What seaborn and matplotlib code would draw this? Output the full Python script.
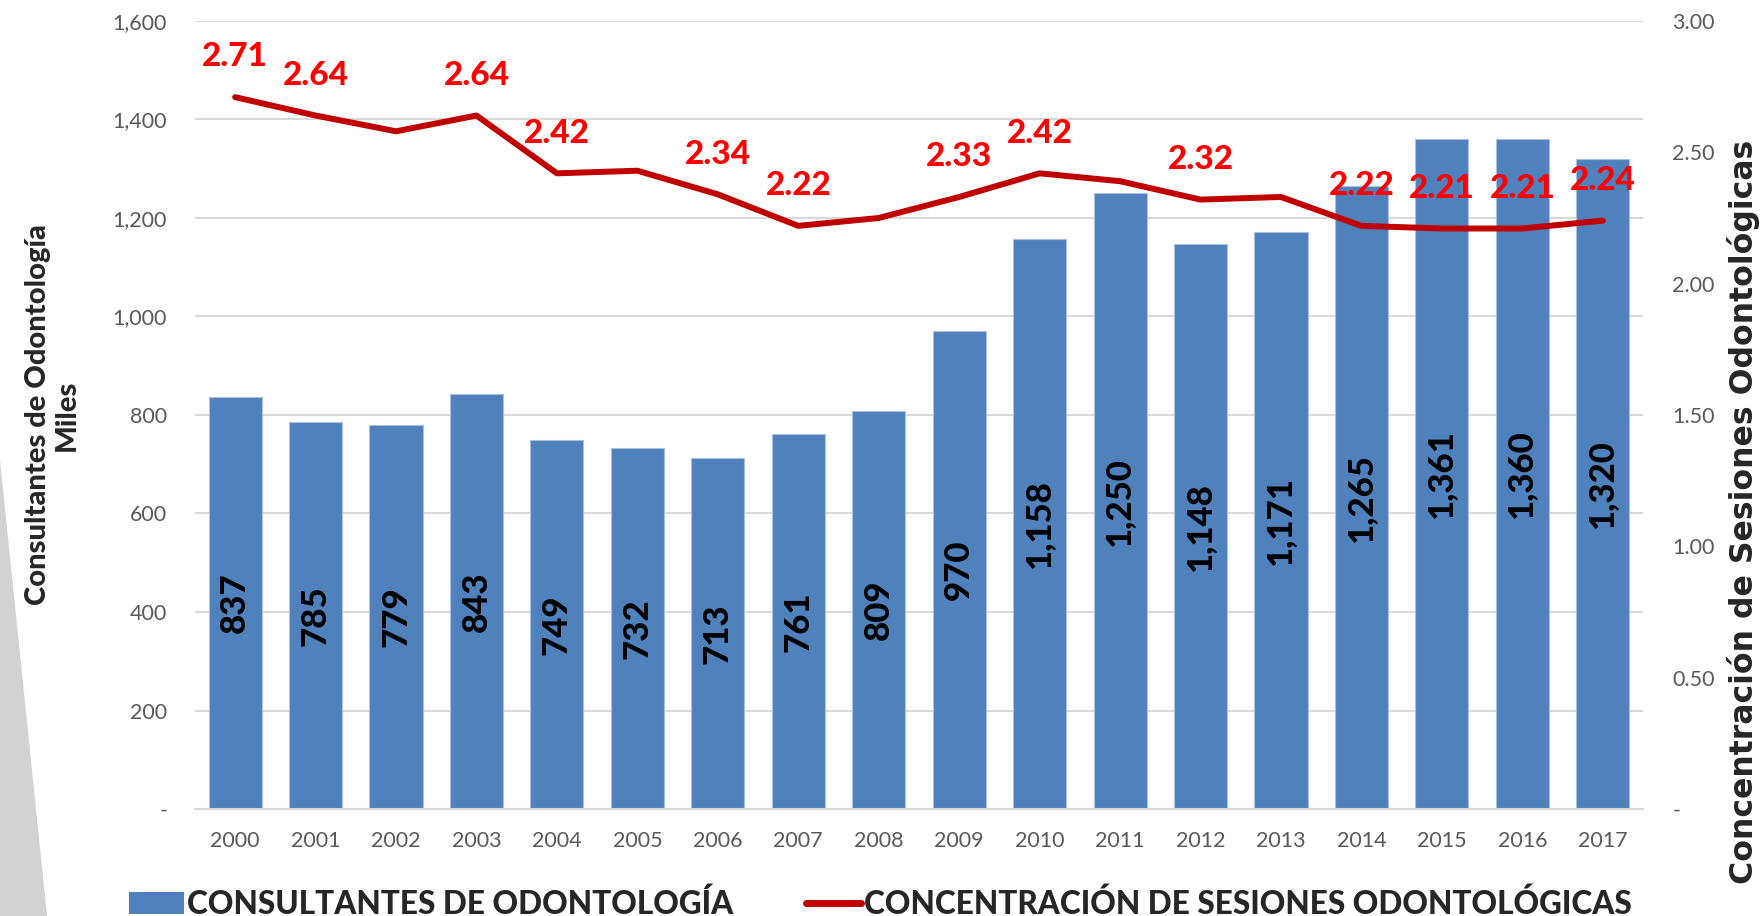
import matplotlib
matplotlib.use("Agg")
import matplotlib.pyplot as plt
import seaborn as sns
import numpy as np
import pandas as pd
from matplotlib.patches import Patch, Polygon
from matplotlib.lines import Line2D
from matplotlib.ticker import FuncFormatter

# data
years = ['2000', '2001', '2002', '2003', '2004', '2005', '2006', '2007', '2008',
         '2009', '2010', '2011', '2012', '2013', '2014', '2015', '2016', '2017']
consultantes = [837, 785, 779, 843, 749, 732, 713, 761, 809,
                970, 1158, 1250, 1148, 1171, 1265, 1361, 1360, 1320]
concentracion = [2.71, 2.64, 2.58, 2.64, 2.42, 2.43, 2.34, 2.22, 2.25,
                 2.33, 2.42, 2.39, 2.32, 2.33, 2.22, 2.21, 2.21, 2.24]
# which points of the line carry a value label in the original
line_labelled = [True, True, False, True, True, False, True, True, False,
                 True, True, False, True, False, True, True, True, True]

bar_name = 'CONSULTANTES DE ODONTOLOGÍA'
line_name = 'CONCENTRACIÓN DE SESIONES ODONTOLÓGICAS'

BLUE = '#4F81BD'
DARKRED = '#C00000'
RED = '#FF0000'
GRAY = '#595959'

sns.set_theme(style='white')
plt.rcParams['font.family'] = ['Lato', 'DejaVu Sans']

df = pd.DataFrame({'year': years, 'consultantes': consultantes})

fig = plt.figure(figsize=(17.64, 9.16), dpi=100)
ax = fig.add_axes([0.1105, 0.1168, 0.8209, 0.8603])

# decorative grey wedge at the left edge
fig.patches.append(Polygon([(0, 1 - 460 / 916), (47 / 1764, 0), (0, 0)], closed=True,
                           transform=fig.transFigure, facecolor='#d2d2d2',
                           edgecolor='none', zorder=0))

sns.barplot(data=df, x='year', y='consultantes', color=BLUE, width=0.66,
            saturation=1, edgecolor='#a9c0de', linewidth=0.8, ax=ax, zorder=2)
ax.bar_label(ax.containers[0], labels=[f'{v:,}' for v in consultantes],
             label_type='center', rotation=90, fontsize=25, fontweight='black',
             color='black')

ax.set_ylim(0, 1600)
ax.set_yticks(np.arange(0, 1601, 200))
ax.yaxis.set_major_formatter(FuncFormatter(lambda v, p: '-' if v == 0 else f'{v:,.0f}'))
ax.grid(axis='y', color='#d9d9d9', linewidth=1.5, zorder=0)
ax.set_axisbelow(True)
ax.set_xlabel('')
ax.set_ylabel('Consultantes de Odontología\nMiles', fontsize=21, fontweight='black',
              linespacing=1.1, labelpad=24)
ax.tick_params(axis='y', length=0, pad=20, labelsize=15.5, labelcolor=GRAY)
ax.tick_params(axis='x', length=0, pad=16, labelsize=15.5, labelcolor=GRAY)
for s in ['top', 'right', 'left']:
    ax.spines[s].set_visible(False)
ax.spines['bottom'].set_color('#d9d9d9')
ax.spines['bottom'].set_linewidth(1.5)

ax2 = ax.twinx()
pos = np.arange(len(years))
sns.lineplot(x=pos, y=concentracion, color=DARKRED, linewidth=4.3, ax=ax2,
             solid_capstyle='round', solid_joinstyle='round', zorder=3)
for i, (v, show) in enumerate(zip(concentracion, line_labelled)):
    if show:
        ax2.annotate(f'{v:.2f}', (pos[i], v), xytext=(0, 29), textcoords='offset points',
                     ha='center', va='center', fontsize=24, fontweight='black', color=RED)
ax2.set_ylim(0, 3)
ax2.set_yticks(np.arange(0, 3.01, 0.5))
ax2.yaxis.set_major_formatter(FuncFormatter(lambda v, p: '-' if v == 0 else f'{v:.2f}'))
ax2.set_ylabel('Concentración de Sesiones Odontológicas', fontsize=22.7, fontweight='bold',
               family=['DejaVu Sans'])
ax2.yaxis.label.set_va('center')
ax2.yaxis.set_label_coords(1.0697, 0.377)
ax2.tick_params(axis='y', length=0, pad=21, labelsize=15.5, labelcolor=GRAY)
ax2.set_xlim(-0.5, len(years) - 0.5)
for s in ['top', 'right', 'left', 'bottom']:
    ax2.spines[s].set_visible(False)
ax2.grid(False)

handles = [Patch(facecolor=BLUE, edgecolor='none'),
           Line2D([0], [0], color=DARKRED, linewidth=5, solid_capstyle='round')]
fig.legend(handles, [bar_name, line_name], loc='center', bbox_to_anchor=(0.499, 0.013),
           ncol=2, frameon=False, prop={'size': 22.7, 'weight': 'black'},
           handlelength=1.75, handleheight=0.7, handletextpad=0.1, columnspacing=2.3)

fig.savefig('out.png', dpi=100)
